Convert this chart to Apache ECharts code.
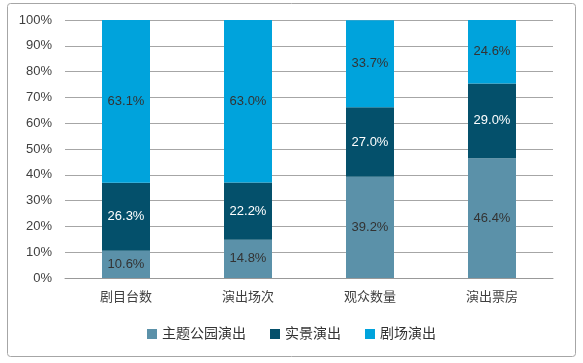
<!DOCTYPE html>
<html><head><meta charset="utf-8">
<script src="https://cdn.jsdelivr.net/npm/echarts@6/dist/echarts.min.js"></script>
<style>html,body{margin:0;padding:0;background:#fff}#c{width:583px;height:363px}</style>
</head><body><div id="c"></div>
<script>
const categories = ['剧目台数','演出场次','观众数量','演出票房'];
const seriesNames = ['主题公园演出','实景演出','剧场演出'];
const themePark = [10.6, 14.8, 39.2, 46.4];
const liveScene = [26.3, 22.2, 27.0, 29.0];
const theater = [63.1, 63.0, 33.7, 24.6];
const colors = ['#5B91A9', '#04506B', '#00A3DC'];
const labelColors = ['#333333', '#ffffff', '#333333'];
const font = '"Liberation Sans","Noto Sans CJK SC",sans-serif';

const chart = echarts.init(document.getElementById('c'), null, {renderer:'canvas'});
const dataSets = [themePark, liveScene, theater];
chart.setOption({
  animation:false,
  graphic:[{type:'rect', shape:{x:7.5,y:3.5,width:568,height:353,r:3}, style:{fill:'none',stroke:'#A6A6A6',lineWidth:1}}],
  grid:{left:65, right:30, top:20, bottom:85},
  legend:{
    data:seriesNames, bottom:17, left:'center', itemWidth:10, itemHeight:10, itemGap:24,
    icon:'rect', textStyle:{fontSize:14, color:'#333', fontFamily:font}
  },
  xAxis:{
    type:'category', data:categories,
    axisLine:{lineStyle:{color:'#999', width:1}}, axisTick:{show:false},
    axisLabel:{fontSize:13, color:'#404040', margin:13, fontFamily:font}
  },
  yAxis:{
    type:'value', min:0, max:100, interval:10,
    axisLabel:{formatter:'{value}%', fontSize:13, color:'#404040', margin:13, fontFamily:font},
    splitLine:{lineStyle:{color:'#A6A6A6', width:1}},
    axisLine:{show:false}, axisTick:{show:false}
  },
  series: seriesNames.map((n,i)=>({
    name:n, type:'bar', stack:'total', barWidth:48,
    data:dataSets[i],
    itemStyle:{color:colors[i]},
    label:{show:true, position:'inside', formatter:p=>p.value.toFixed(1)+'%', color:labelColors[i], fontSize:13, fontFamily:font}
  }))
});
</script></body></html>
